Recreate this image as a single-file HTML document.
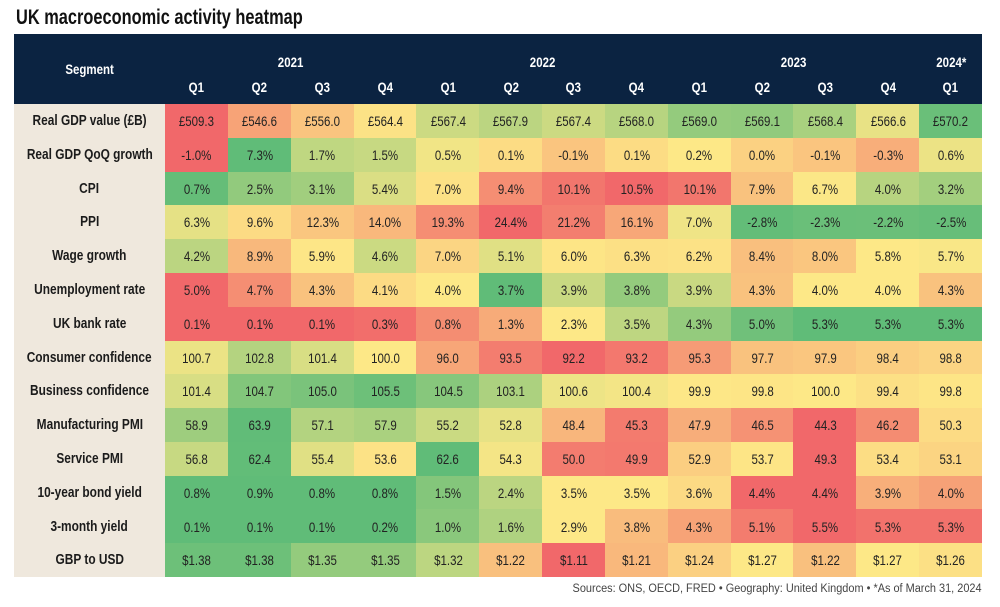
<!DOCTYPE html>
<html><head><meta charset="utf-8"><style>
body{margin:0;width:1000px;height:607px;background:#fff;font-family:"Liberation Sans",sans-serif;position:relative;overflow:hidden;color:#222}
#title{position:absolute;left:16px;top:6px;font-size:21px;font-weight:bold;color:#111;transform:scaleX(0.78);transform-origin:left top;white-space:nowrap}
#hm{position:absolute;left:14px;top:34px;width:968px;height:543px;background:#efe8dd}
.h{position:absolute;background:#0b2341;color:#fff;font-size:14px;font-weight:bold;display:flex;align-items:center;justify-content:center}
.lab{position:absolute;background:#efe8dd;font-size:14.5px;font-weight:bold;color:#1b1b1b;display:flex;align-items:center;justify-content:center}
.c{position:absolute;font-size:14px;display:flex;align-items:center;justify-content:center;color:#222}
.h span,.lab span,.c span{display:inline-block;transform:scaleX(0.82);white-space:nowrap}
#src{position:absolute;right:18px;top:583px;font-size:11.5px;color:#444;transform:scaleX(0.95);transform-origin:right top;white-space:nowrap}
</style></head><body>
<div id="title">UK macroeconomic activity heatmap</div>
<div id="hm"></div>
<div id="src">Sources: ONS, OECD, FRED • Geography: United Kingdom • *As of March 31, 2024</div>
<script>
const years=[["2021",4],["2022",4],["2023",4],["2024*",1]];
const quarters=["Q1","Q2","Q3","Q4","Q1","Q2","Q3","Q4","Q1","Q2","Q3","Q4","Q1"];
const rowNames=["Real GDP value (£B)","Real GDP QoQ growth","CPI","PPI","Wage growth","Unemployment rate","UK bank rate","Consumer confidence","Business confidence","Manufacturing PMI","Service PMI","10-year bond yield","3-month yield","GBP to USD"];
const rowFormats=["gbp","pct","pct","pct","pct","pct","pct","num","num","num","num","pct","pct","usd"];
// colour-scale domain per row: value shown red, yellow, green
const scaleRed=[530,-0.9,10.5,24,14,5.0,0.2,92.2,90,44.3,49.3,4.4,5.5,1.11];
const scaleYellow=[566,0.2,6.8,8,5.8,4.0,2.3,100,100,51,53.8,3.5,2.9,1.27];
const scaleGreen=[570.5,4,0.5,-3,2,3.7,5.3,106,106,64,62.5,0.9,0.3,1.39];
const gdp=[509.3,546.6,556.0,564.4,567.4,567.9,567.4,568.0,569.0,569.1,568.4,566.6,570.2];
const gdpQoq=[-1.0,7.3,1.7,1.5,0.5,0.1,-0.1,0.1,0.2,0.0,-0.1,-0.3,0.6];
const cpi=[0.7,2.5,3.1,5.4,7.0,9.4,10.1,10.5,10.1,7.9,6.7,4.0,3.2];
const ppi=[6.3,9.6,12.3,14.0,19.3,24.4,21.2,16.1,7.0,-2.8,-2.3,-2.2,-2.5];
const wage=[4.2,8.9,5.9,4.6,7.0,5.1,6.0,6.3,6.2,8.4,8.0,5.8,5.7];
const unemp=[5.0,4.7,4.3,4.1,4.0,3.7,3.9,3.8,3.9,4.3,4.0,4.0,4.3];
const bankRate=[0.1,0.1,0.1,0.3,0.8,1.3,2.3,3.5,4.3,5.0,5.3,5.3,5.3];
const consConf=[100.7,102.8,101.4,100.0,96.0,93.5,92.2,93.2,95.3,97.7,97.9,98.4,98.8];
const busConf=[101.4,104.7,105.0,105.5,104.5,103.1,100.6,100.4,99.9,99.8,100.0,99.4,99.8];
const mfgPmi=[58.9,63.9,57.1,57.9,55.2,52.8,48.4,45.3,47.9,46.5,44.3,46.2,50.3];
const svcPmi=[56.8,62.4,55.4,53.6,62.6,54.3,50.0,49.9,52.9,53.7,49.3,53.4,53.1];
const bond10=[0.8,0.9,0.8,0.8,1.5,2.4,3.5,3.5,3.6,4.4,4.4,3.9,4.0];
const yield3m=[0.1,0.1,0.1,0.2,1.0,1.6,2.9,3.8,4.3,5.1,5.5,5.3,5.3];
const gbpUsd=[1.38,1.38,1.35,1.35,1.32,1.22,1.11,1.21,1.24,1.27,1.22,1.27,1.26];
const rows=[gdp,gdpQoq,cpi,ppi,wage,unemp,bankRate,consConf,busConf,mfgPmi,svcPmi,bond10,yield3m,gbpUsd];

const hm=document.getElementById('hm');
const LW=151,CW=(968-LW)/13,H1=34,H2=36,HH=H1+H2,RH=(543-HH)/rows.length;
function mk(cls,x,y,w,h,t){const d=document.createElement('div');d.className=cls;d.style.left=x+'px';d.style.top=y+'px';d.style.width=w+'px';d.style.height=h+'px';const s=document.createElement('span');s.textContent=t;d.appendChild(s);hm.appendChild(d);return d;}
let e=mk('h',0,0,LW,HH,'Segment');


let ci=0;
years.forEach(([y,n])=>{const d=mk('h',LW+ci*CW,0,n*CW+0.5,H1+2,y);d.style.alignItems='flex-end';


ci+=n;});
quarters.forEach((q,i)=>{const d=mk('h',LW+i*CW,H1+2,CW+0.5,H2-2,q);

});
const RED=[241,104,106],YEL=[253,232,135],GRN=[96,188,120];
function mix(a,b,t){t=Math.max(0,Math.min(1,t));return 'rgb('+a.map((v,i)=>Math.round(v+(b[i]-v)*t)).join(',')+')';}
function fmt(v,f){if(f==='gbp')return '£'+v.toFixed(1);if(f==='usd')return '$'+v.toFixed(2);if(f==='pct')return v.toFixed(1)+'%';return v.toFixed(1);}
function colorFor(r,v){
  const R=scaleRed[r],Y=scaleYellow[r],G=scaleGreen[r];
  const towardG=(G>Y)?v>=Y:v<=Y;
  if(towardG)return mix(YEL,GRN,(v-Y)/(G-Y));
  return mix(YEL,RED,(v-Y)/(R-Y));
}
rows.forEach((vals,r)=>{
  const y=HH+r*RH;
  const l=mk('lab',0,y,LW,RH+0.5,rowNames[r]);
  
  
  vals.forEach((v,i)=>{
    const c=mk('c',LW+i*CW,y,CW+0.5,RH+0.5,fmt(v,rowFormats[r]));
    c.style.background=colorFor(r,v);
    
    
  });
});
</script>
</body></html>
